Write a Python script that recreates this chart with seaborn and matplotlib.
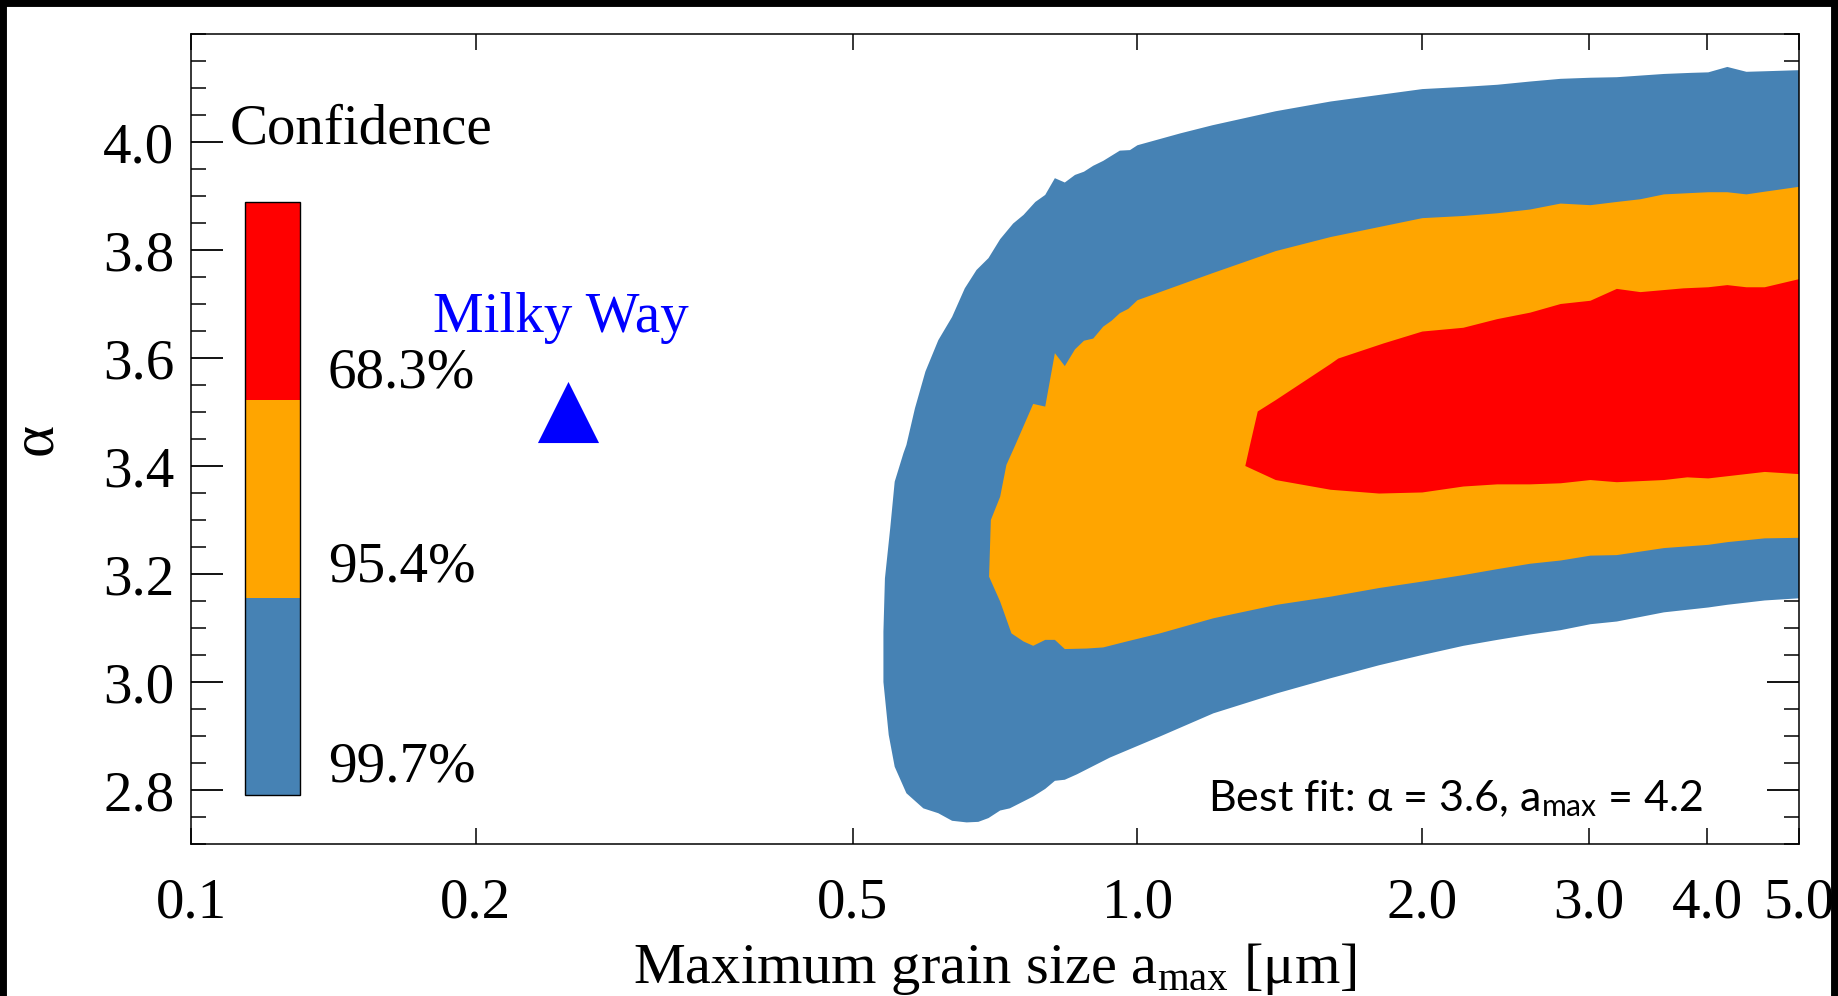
import matplotlib
matplotlib.use("Agg")
import matplotlib.pyplot as plt
from matplotlib.patches import Rectangle
from matplotlib.ticker import FixedLocator, MultipleLocator, NullLocator
import seaborn as sns

# ---------------- data ----------------
level_labels = ["99.7%", "95.4%", "68.3%"]
level_colors = ["#4682B4", "#FFA500", "#FF0000"]

# 99.7% confidence region outline (a_max [um], alpha)
blue_x = [5.0, 4.60, 4.40, 4.20, 4.01, 3.84, 3.60, 3.21, 3.01, 2.80,
          2.60, 2.40, 2.21, 2.00, 1.60, 1.40, 1.20, 1.11, 1.00, 0.982,
          0.958, 0.920, 0.898, 0.878, 0.859, 0.838, 0.818, 0.799, 0.780, 0.758,
          0.739, 0.716, 0.696, 0.676, 0.657, 0.637, 0.616, 0.597, 0.582, 0.570,
          0.566, 0.554, 0.548, 0.541, 0.539,
          0.539, 0.546, 0.554, 0.570, 0.594, 0.616, 0.637, 0.660, 0.679, 0.696,
          0.716, 0.733, 0.776, 0.799, 0.818, 0.838, 0.863, 0.935, 1.056, 1.203,
          1.404, 1.60, 1.80, 2.00, 2.21, 2.40, 2.60, 2.80, 3.01, 3.21,
          3.60, 4.01, 4.20, 4.60, 5.0]
blue_y = [4.133, 4.131, 4.130, 4.139, 4.129, 4.128, 4.126, 4.120, 4.119, 4.117,
          4.112, 4.106, 4.102, 4.098, 4.075, 4.057, 4.031, 4.016, 3.994, 3.985,
          3.984, 3.965, 3.956, 3.945, 3.939, 3.925, 3.933, 3.902, 3.889, 3.865,
          3.849, 3.820, 3.785, 3.763, 3.729, 3.676, 3.633, 3.575, 3.507, 3.439,
          3.424, 3.371, 3.285, 3.192, 3.093,
          3.000, 2.902, 2.843, 2.794, 2.766, 2.757, 2.743, 2.740, 2.741, 2.748,
          2.762, 2.766, 2.788, 2.802, 2.817, 2.819, 2.829, 2.860, 2.899, 2.942,
          2.979, 3.007, 3.031, 3.050, 3.067, 3.078, 3.088, 3.096, 3.107, 3.112,
          3.129, 3.138, 3.143, 3.151, 3.155]

# 95.4% confidence region outline
orange_x = [5.0, 4.60, 4.40, 4.20, 4.01, 3.60, 3.40, 3.21, 3.01, 2.80,
            2.60, 2.40, 2.21, 2.00, 1.60, 1.40, 1.20, 1.00, 0.978, 0.958,
            0.939, 0.920, 0.898, 0.878, 0.859, 0.838, 0.818, 0.799, 0.776, 0.743,
            0.727, 0.716, 0.700, 0.697, 0.716, 0.736, 0.758, 0.776, 0.799, 0.818,
            0.838, 0.884, 0.920, 0.974, 1.056, 1.203, 1.404, 1.60, 1.80, 2.00,
            2.21, 2.40, 2.60, 2.80, 3.01, 3.21, 3.60, 4.01, 4.20, 4.60,
            5.0]
orange_y = [3.917, 3.908, 3.903, 3.907, 3.907, 3.903, 3.894, 3.889, 3.883, 3.886,
            3.875, 3.868, 3.863, 3.859, 3.824, 3.798, 3.757, 3.707, 3.691, 3.683,
            3.669, 3.658, 3.636, 3.632, 3.616, 3.585, 3.609, 3.510, 3.515, 3.439,
            3.402, 3.343, 3.300, 3.195, 3.149, 3.090, 3.075, 3.067, 3.078, 3.078,
            3.061, 3.062, 3.064, 3.075, 3.090, 3.118, 3.143, 3.158, 3.174, 3.186,
            3.198, 3.209, 3.219, 3.225, 3.234, 3.235, 3.248, 3.254, 3.259, 3.266,
            3.267]

# 68.3% confidence region outline
red_x = [5.0, 4.60, 4.40, 4.20, 4.01, 3.775, 3.40, 3.21, 3.01, 2.80,
         2.60, 2.40, 2.21, 2.00, 1.82, 1.63, 1.60, 1.40, 1.34, 1.315,
         1.30, 1.40, 1.60, 1.80, 2.00, 2.21, 2.40, 2.60, 2.80, 3.01,
         3.21, 3.60, 3.81, 4.01, 4.60, 5.0]
red_y = [3.746, 3.731, 3.731, 3.735, 3.731, 3.729, 3.722, 3.728, 3.706, 3.700,
         3.684, 3.672, 3.656, 3.649, 3.627, 3.599, 3.589, 3.522, 3.501, 3.439,
         3.400, 3.374, 3.356, 3.349, 3.351, 3.362, 3.366, 3.366, 3.368, 3.374,
         3.370, 3.374, 3.379, 3.377, 3.389, 3.385]

mw_amax = [0.25]
mw_alpha = [3.5]
mw_label = "Milky Way"

best_fit_text = r"Best fit: α = 3.6, a$_{\mathsf{max}}$ = 4.2"

xticks = [0.1, 0.2, 0.5, 1.0, 2.0, 3.0, 4.0, 5.0]
xticklabels = ["0.1", "0.2", "0.5", "1.0", "2.0", "3.0", "4.0", "5.0"]
yticks = [2.8, 3.0, 3.2, 3.4, 3.6, 3.8, 4.0]
yticklabels = ["2.8", "3.0", "3.2", "3.4", "3.6", "3.8", "4.0"]

# ---------------- style ----------------
sns.set_style("white")
plt.rcParams["font.family"] = ["Liberation Serif", "DejaVu Serif"]
plt.rcParams["text.color"] = "black"
plt.rcParams["axes.labelcolor"] = "black"
plt.rcParams["xtick.color"] = "black"
plt.rcParams["ytick.color"] = "black"
plt.rcParams["mathtext.fontset"] = "custom"
plt.rcParams["mathtext.rm"] = "Liberation Serif"
plt.rcParams["mathtext.it"] = "Liberation Serif:italic"
plt.rcParams["mathtext.bf"] = "Liberation Serif:bold"
plt.rcParams["mathtext.sf"] = "Lato"

W, H = 1838, 996
fig = plt.figure(figsize=(W / 100, H / 100), dpi=100)
fig.patch.set_facecolor("white")
ax = fig.add_axes([191 / W, 1 - 844 / H, (1799 - 191) / W, (844 - 34) / H])
ax.set_facecolor("white")

# confidence regions
for xs, ys, col in [(blue_x, blue_y, level_colors[0]),
                    (orange_x, orange_y, level_colors[1]),
                    (red_x, red_y, level_colors[2])]:
    ax.fill(xs, ys, color=col, lw=0, zorder=1)

# Milky Way point
sns.scatterplot(x=mw_amax, y=mw_alpha, marker="^", s=44 ** 2, color="#0000FF",
                linewidth=0, ax=ax, legend=False, zorder=5)
ax.text((433 - 191) / 1608, (844 - 332) / 810, mw_label, transform=ax.transAxes,
        color="#0000FF", fontsize=41, ha="left", va="baseline")

# axes
ax.set_xscale("log")
ax.set_xlim(0.1, 5.0)
ax.set_ylim(2.7, 4.2)
ax.xaxis.set_major_locator(FixedLocator(xticks))
ax.xaxis.set_minor_locator(NullLocator())
ax.set_xticklabels(xticklabels)
ax.yaxis.set_major_locator(FixedLocator(yticks))
ax.set_yticklabels(yticklabels)
ax.yaxis.set_minor_locator(MultipleLocator(0.05))

ax.tick_params(axis="x", which="major", direction="in", length=11.5, width=1.1,
               top=True, bottom=True, labelsize=41, pad=24, colors="black")
ax.tick_params(axis="y", which="major", direction="in", length=23, width=1.3,
               left=True, right=True, labelsize=41, pad=12, colors="black")
ax.tick_params(axis="y", which="minor", direction="in", length=11, width=1.1,
               left=True, right=True, colors="black")
for sp in ax.spines.values():
    sp.set_visible(True)
    sp.set_color("black")
    sp.set_linewidth(1.1)

ax.set_xlabel(r"Maximum grain size a$_{\mathrm{max}}$ [μm]", fontsize=42, color="black")
ax.xaxis.set_label_coords(0.5, (844 - 983) / 810)
ax.xaxis.label.set_va("baseline")
ax.set_ylabel("α", fontsize=44, color="black")
ax.yaxis.set_label_coords((64 - 191) / 1608, 0.5)

# confidence legend bar
bar_x0 = (245 - 191) / 1608
bar_w = (300 - 245) / 1608
edges = [(844 - 795.3) / 810, (844 - 598) / 810, (844 - 400) / 810, (844 - 202) / 810]
for i, col in enumerate(level_colors):
    ax.add_patch(Rectangle((bar_x0, edges[i]), bar_w, edges[i + 1] - edges[i],
                           transform=ax.transAxes, facecolor=col, edgecolor="none",
                           zorder=6, clip_on=False))
ax.add_patch(Rectangle((bar_x0, edges[0]), bar_w, edges[3] - edges[0],
                       transform=ax.transAxes, facecolor="none", edgecolor="black",
                       lw=1.0, zorder=7, clip_on=False))
label_base = [(844 - 782) / 810, (844 - 582) / 810, (844 - 387) / 810]
for lab, yb in zip(level_labels, label_base):
    ax.text((328 - 191) / 1608, yb, lab, transform=ax.transAxes, fontsize=41,
            color="black", ha="left", va="baseline", zorder=7)
ax.text((230 - 191) / 1608, (844 - 143) / 810, "Confidence", transform=ax.transAxes,
        fontsize=41, color="black", ha="left", va="baseline", zorder=7)

# best-fit annotation
ax.text((1703 - 191) / 1608, (844 - 811) / 810, best_fit_text, transform=ax.transAxes,
        fontsize=31, family=["Lato", "DejaVu Sans"], color="black",
        ha="right", va="baseline", zorder=7)

# black frame around the whole figure
fig.add_artist(Rectangle((0, -3.5 / H), 1, 1 + 3.5 / H, transform=fig.transFigure,
                         facecolor="none", edgecolor="black", lw=10.0, zorder=20))

fig.savefig("out.png", dpi=100)
